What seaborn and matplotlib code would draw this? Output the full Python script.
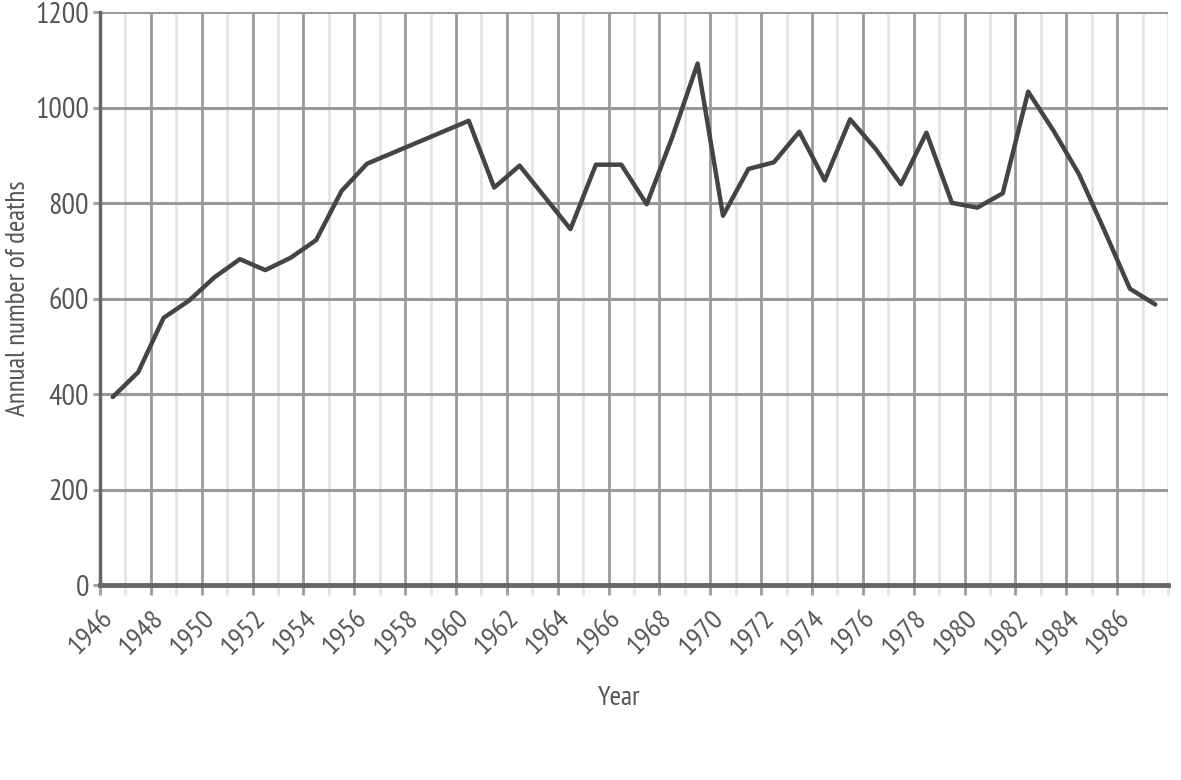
import matplotlib
matplotlib.use("Agg")
import matplotlib.pyplot as plt
import seaborn as sns
import pandas as pd
import numpy as np
from matplotlib.ticker import MultipleLocator
from matplotlib import font_manager

years = [1946, 1947, 1948, 1949, 1950, 1951, 1952, 1953, 1954, 1955, 1956,
         1960, 1961, 1962, 1964, 1965, 1966, 1967, 1968, 1969, 1970, 1971,
         1972, 1973, 1974, 1975, 1976, 1977, 1978, 1979, 1980, 1981, 1982,
         1983, 1984, 1985, 1986, 1987]
deaths = [394, 446, 560, 596, 645, 683, 660, 686, 723, 826, 883,
          973, 833, 879, 746, 881, 881, 798, 938, 1093, 774, 872,
          886, 950, 848, 976, 914, 840, 948, 801, 791, 821, 1034,
          952, 861, 743, 621, 588]
y_ticks = [0, 200, 400, 600, 800, 1000, 1200]
x_tick_labels = list(range(1946, 1988, 2))

sns.set_theme(style="white")

installed = set(f.name for f in font_manager.fontManager.ttflist)
candidates = ['PT Sans Narrow', 'Fira Sans Condensed', 'Roboto Condensed',
              'Archivo Narrow', 'Liberation Sans Narrow']
avail = [c for c in candidates if c in installed]
plt.rcParams['font.family'] = avail[:1] + ['DejaVu Sans']

df = pd.DataFrame({"year": np.array(years) + 0.5, "deaths": deaths})

fig = plt.figure(figsize=(11.81, 7.80), dpi=100)
ax = fig.add_axes([0.0847, 0.25, 0.9043, 0.734])

text_c = "#555555"
major_c = "#9a9a9a"
minor_c = "#e4e4e4"

ax.set_xlim(1946, 1988)
ax.set_ylim(0, 1200)

ax.xaxis.set_major_locator(MultipleLocator(2))
ax.xaxis.set_minor_locator(MultipleLocator(1))
ax.set_yticks(y_ticks)

ax.grid(which="major", axis="x", color=major_c, linewidth=2.0, zorder=0)
ax.grid(which="minor", axis="x", color=minor_c, linewidth=2.0, zorder=0)
ax.grid(which="major", axis="y", color=major_c, linewidth=2.2, zorder=0)
ax.set_axisbelow(True)

sns.lineplot(data=df, x="year", y="deaths", ax=ax, color="#444444",
             linewidth=3.2, zorder=3)

ax.set_xticks(x_tick_labels)
ax.set_xticklabels([str(y) for y in x_tick_labels], rotation=45,
                   ha="right", va="top", rotation_mode="anchor",
                   fontsize=20.5, color=text_c)
ax.set_yticklabels([str(v) for v in y_ticks], fontsize=21.5, color=text_c)

ax.tick_params(axis="x", which="major", length=7, width=2, color=major_c,
               bottom=True, pad=8)
ax.tick_params(axis="x", which="minor", length=7, width=2, color=minor_c,
               bottom=True)
ax.tick_params(axis="y", which="major", length=5, width=2, color=major_c,
               left=True, pad=3)

for s in ["top", "right"]:
    ax.spines[s].set_visible(False)
ax.spines["left"].set_color("#666666")
ax.spines["left"].set_linewidth(2.5)
ax.spines["bottom"].set_color("#666666")
ax.spines["bottom"].set_linewidth(3.5)
ax.spines["bottom"].set_zorder(4)

ax.set_xlabel("Year", fontsize=20, color=text_c)
ax.set_ylabel("Annual number of deaths", fontsize=19.5, color=text_c)
ax.xaxis.set_label_coords(0.486, -0.177)
ax.yaxis.set_label_coords(-0.0655, 0.5)

fig.savefig("out.png", dpi=100)
